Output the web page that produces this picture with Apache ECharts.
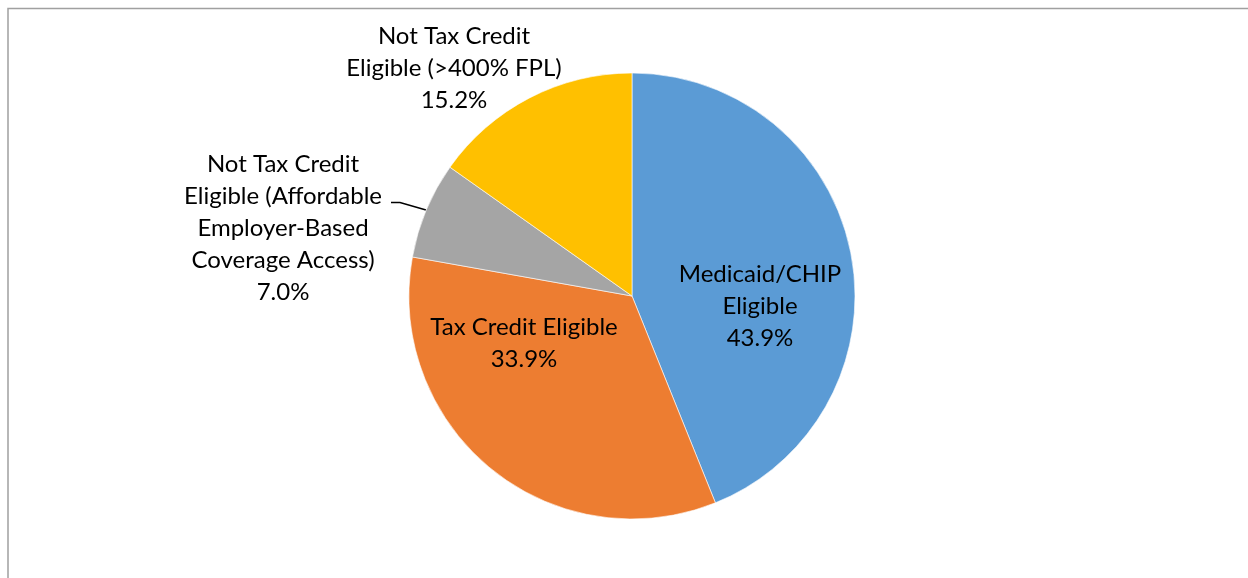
<!DOCTYPE html>
<html>
<head>
<meta charset="utf-8">
<script src="https://cdn.jsdelivr.net/npm/echarts@6/dist/echarts.min.js"></script>
<style>
html,body{margin:0;padding:0;background:#fff;}
#chart{width:1248px;height:578px;}
</style>
</head>
<body>
<div id="chart"></div>
<script>
const categories = [
  "Medicaid/CHIP\nEligible",
  "Tax Credit Eligible",
  "Not Tax Credit\nEligible (Affordable\nEmployer-Based\nCoverage Access)",
  "Not Tax Credit\nEligible (>400% FPL)"
];
const values = [43.9, 33.9, 7.0, 15.2];
const colors = ["#5B9BD5", "#ED7D31", "#A5A5A5", "#FFC000"];

// label anchor positions (layout only)
const labelPos = [
  {x: 760, y: 306},
  {x: 524, y: 343},
  {x: 283, y: 228},
  {x: 454, y: 68}
];

const chart = echarts.init(document.getElementById('chart'));
const FONT = 'Lato';
chart.setOption({
  animation: false,
  backgroundColor: '#ffffff',
  graphic: [{
    type: 'rect',
    shape: {x: 8, y: 8.5, width: 1400, height: 800},
    style: {fill: 'none', stroke: '#a0a0a0', lineWidth: 1.5},
    silent: true
  }],
  series: [{
    type: 'pie',
    center: [632, 296],
    radius: 223,
    startAngle: 90,
    clockwise: true,
    avoidLabelOverlap: false,
    itemStyle: {borderColor: '#ffffff', borderWidth: 0.6},
    label: {
      show: true,
      formatter: p => p.name + '\n' + p.value.toFixed(1) + '%',
      fontFamily: FONT,
      fontSize: 24,
      lineHeight: 32,
      color: '#000000',
      align: 'center'
    },
    labelLine: {show: false},
    labelLayout: function (params) {
      const i = params.dataIndex;
      const o = {x: labelPos[i].x, y: labelPos[i].y, align: 'center', verticalAlign: 'middle'};
      if (i === 2) {
        o.labelLinePoints = [[426, 210], [400, 202.5], [391, 202.5]];
      }
      return o;
    },
    data: categories.map((c, i) => ({
      name: c,
      value: values[i],
      itemStyle: {color: colors[i]},
      label: {position: (i < 2 ? 'inside' : 'outside')},
      labelLine: {show: i === 2, smooth: false, lineStyle: {color: '#000000', width: 1.5}, length: 10, length2: 8}
    }))
  }]
});
</script>
</body>
</html>
